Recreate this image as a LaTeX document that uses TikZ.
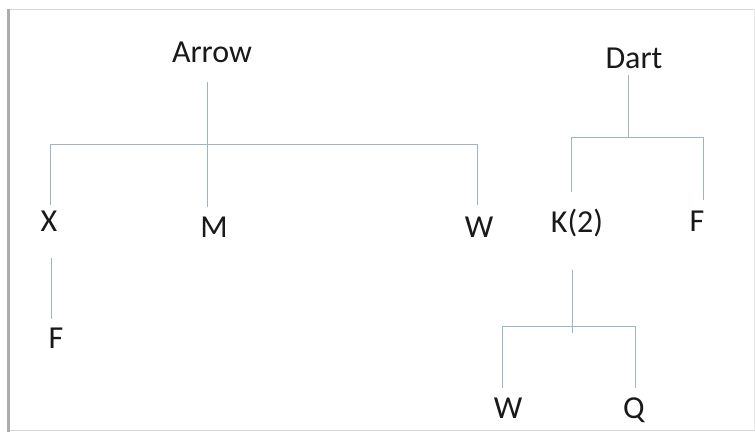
\documentclass[tikz,border=0pt]{standalone}
\usepackage{fontspec}
\setmainfont{Carlito}
\definecolor{linec}{RGB}{160,180,190}
\definecolor{textc}{RGB}{25,25,25}
\definecolor{framec}{RGB}{215,215,215}
\begin{document}
\begin{tikzpicture}[x=1pt,y=-1pt,
  lbl/.style={anchor=base,inner sep=0pt,text=textc,font=\fontsize{32}{38}\selectfont},
  conn/.style={draw=linec,line width=1pt}]
\useasboundingbox (0,0) rectangle (755,432);
% frame
\draw[framec,line width=1pt] (9,9) -- (755,9);
\draw[framec,line width=1pt] (9,430) -- (755,430);
\draw[framec!80!black,line width=3pt] (8,9) -- (8,432);
\draw[framec!60,line width=1pt] (754,9) -- (754,430);
% labels
\node[lbl] (arrow) at (212,62) {Arrow};
\node[lbl] (dart) at (634,68) {Dart};
\node[lbl] (x) at (49,231) {X};
\node[lbl] (m) at (214,237) {M};
\node[lbl] (w1) at (479,237) {W};
\node[lbl] (k) at (577,232) {K(2)};
\node[lbl] (f1) at (697,231) {F};
\node[lbl] (f2) at (56,348) {F};
\node[lbl] (w2) at (508,418) {W};
\node[lbl] (q) at (634,418) {Q};
% connector points
\coordinate (aTop) at (207,82);
\coordinate (aBot) at (207,207);
\coordinate (aL) at (50,144);
\coordinate (aR) at (477,144);
\coordinate (xEnd) at (50,205);
\coordinate (wEnd) at (477,205);
\coordinate (xfTop) at (51,258);
\coordinate (xfBot) at (51,319);
\coordinate (dTop) at (628,75);
\coordinate (dJ) at (628,137);
\coordinate (dL) at (571,137);
\coordinate (dR) at (703,137);
\coordinate (kEnd) at (571,192);
\coordinate (fEnd) at (703,200);
\coordinate (kTop) at (572,270);
\coordinate (kBot) at (572,333);
\coordinate (kL) at (502,326);
\coordinate (kR) at (635,326);
\coordinate (w2End) at (502,388);
\coordinate (qEnd) at (635,388);
% Arrow tree
\draw[conn] (aTop) -- (aBot);
\draw[conn] (xEnd) -- (aL) -- (aR) -- (wEnd);
\draw[conn] (xfTop) -- (xfBot);
% Dart tree
\draw[conn] (dTop) -- (dJ);
\draw[conn] (kEnd) -- (dL) -- (dR) -- (fEnd);
\draw[conn] (kTop) -- (kBot);
\draw[conn] (w2End) -- (kL) -- (kR) -- (qEnd);
\end{tikzpicture}
\end{document}
